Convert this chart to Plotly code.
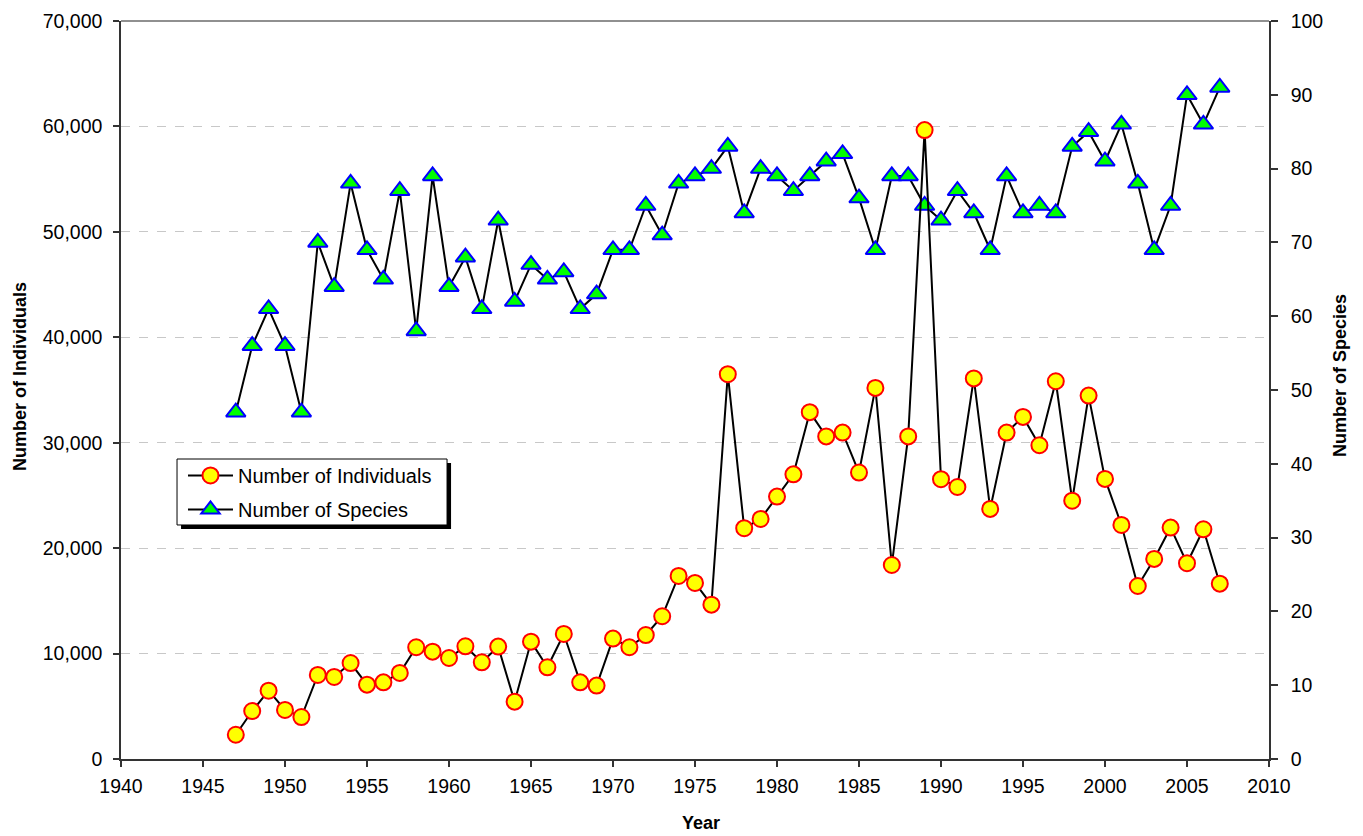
import plotly.graph_objects as go

years = list(range(1947, 2008))
individuals = [
    2300, 4550, 6480, 4650, 3980, 7970, 7780, 9100, 7050, 7270,
    8160, 10600, 10180, 9580, 10690, 9170, 10660, 5440, 11130, 8700,
    11860, 7270, 6960, 11420, 10600, 11760, 13540, 17360, 16700, 14640,
    36500, 21890, 22770, 24890, 27000, 32900, 30600, 30960, 27170, 35200,
    18400, 30600, 59650, 26540, 25800, 36100, 23720, 30960, 32450, 29760,
    35830, 24500, 34470, 26570, 22200, 16410, 18980, 21950, 18570, 21790,
    16630,
]
species = [
    47, 56, 61, 56, 47, 70, 64, 78, 69, 65,
    77, 58, 79, 64, 68, 61, 73, 62, 67, 65,
    66, 61, 63, 69, 69, 75, 71, 78, 79, 80,
    83, 74, 80, 79, 77, 79, 81, 82, 76, 69,
    79, 79, 75, 73, 77, 74, 69, 79, 74, 75,
    74, 83, 85, 81, 86, 78, 69, 75, 90, 86,
    91,
]
x_ticks = list(range(1940, 2011, 5))
left_ticks = list(range(0, 70001, 10000))
right_ticks = list(range(0, 101, 10))

FONT = "Liberation Sans, Arial, sans-serif"

fig = go.Figure()
fig.add_trace(go.Scatter(
    x=years, y=species, name="Number of Species", yaxis="y",
    mode="lines+markers", legendrank=2, legendgroup="s",
    line=dict(color="black", width=2),
    marker=dict(symbol="triangle-up", size=17, color="#00ff00",
                line=dict(color="#0000ff", width=2)),
))
fig.add_trace(go.Scatter(
    x=years, y=individuals, name="Number of Individuals", yaxis="y2",
    mode="lines+markers", legendrank=1, legendgroup="i",
    line=dict(color="black", width=2),
    marker=dict(symbol="circle", size=16, color="#ffff00",
                line=dict(color="#ff0000", width=2)),
))

axis_title_font = dict(family=FONT, size=18, color="black")

fig.update_layout(
    width=1355, height=828,
    margin=dict(l=113, r=94, t=13, b=77),
    paper_bgcolor="white", plot_bgcolor="white",
    font=dict(family=FONT, size=19.5, color="black"),
    showlegend=True,
    legend=dict(
        x=0.054, y=0.4106, xanchor="left", yanchor="top",
        bgcolor="rgba(0,0,0,0)", borderwidth=0,
        font=dict(family=FONT, size=20, color="black"),
        tracegroupgap=5, itemwidth=45,
    ),
    xaxis=dict(
        range=[1940, 2010], tickvals=x_ticks, ticks="outside", ticklen=6,
        tickwidth=1.5, tickcolor="#333", showline=True, linecolor="#333",
        linewidth=1.5, showgrid=False, zeroline=False, automargin=False,
        ticklabelstandoff=3,
    ),
    yaxis=dict(
        range=[0, 100], tickvals=right_ticks, side="right", anchor="x",
        ticks="outside", ticklen=7, tickwidth=1.5, tickcolor="#333",
        showline=True, linecolor="#333", linewidth=1.5, automargin=False,
        showgrid=False, zeroline=False, ticklabelstandoff=9,
    ),
    yaxis2=dict(
        range=[0, 70000], tickvals=left_ticks, tickformat=",d",
        side="left", overlaying="y", anchor="x", automargin=False,
        ticks="outside", ticklen=6, tickwidth=1.5, tickcolor="#333",
        showline=True, linecolor="#333", linewidth=1.5, ticklabelstandoff=7,
        showgrid=True, gridcolor="#c8c8c8", gridwidth=1.2, griddash="dash",
        zeroline=False,
    ),
    annotations=[
        dict(text="<b>Year</b>", xref="paper", yref="paper", x=0.505, y=-0.0867,
             xanchor="center", yanchor="middle", showarrow=False, font=axis_title_font),
        dict(text="<b>Number of Individuals</b>", xref="paper", yref="paper",
             x=-0.088, y=0.519, xanchor="center", yanchor="middle", textangle=-90,
             showarrow=False, font=axis_title_font),
        dict(text="<b>Number of Species</b>", xref="paper", yref="paper",
             x=1.0619, y=0.519, xanchor="center", yanchor="middle", textangle=-90,
             showarrow=False, font=axis_title_font),
    ],
    shapes=[
        dict(type="line", xref="paper", yref="paper", x0=0, x1=1, y0=1, y1=1,
             line=dict(color="#909090", width=2)),
        dict(type="rect", xref="paper", yref="paper", layer="above",
             x0=0.0523, x1=0.2875, y0=0.3117, y1=0.4011,
             fillcolor="black", line=dict(width=0)),
        dict(type="rect", xref="paper", yref="paper", layer="above",
             x0=0.0488, x1=0.284, y0=0.3171, y1=0.4065,
             fillcolor="white", line=dict(color="black", width=1)),
    ],
)

fig.write_html("out.html")
